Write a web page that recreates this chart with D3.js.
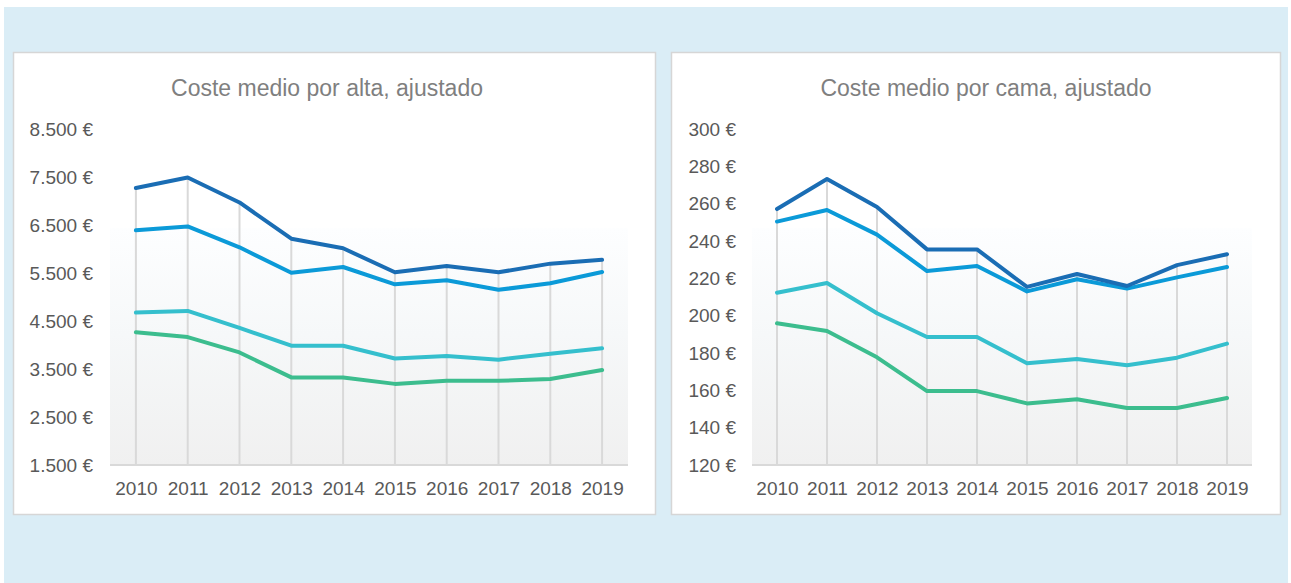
<!DOCTYPE html>
<html>
<head>
<meta charset="utf-8">
<script src="https://cdn.jsdelivr.net/npm/d3@7/dist/d3.min.js"></script>
<style>
  html, body { margin: 0; padding: 0; background: #ffffff; }
  svg { display: block; font-family: "Liberation Sans", Arial, sans-serif; }
</style>
</head>
<body>
<svg id="chart" width="1291" height="583"></svg>
<script>
// ---------- DATA ----------
const years = [2010, 2011, 2012, 2013, 2014, 2015, 2016, 2017, 2018, 2019];

const titles = ["Coste medio por alta, ajustado", "Coste medio por cama, ajustado"];

// Left chart: coste medio por alta (€)
const altaSerie1 = [7270, 7490, 6970, 6215, 6015, 5515, 5645, 5515, 5695, 5775];
const altaSerie2 = [6390, 6470, 6035, 5505, 5625, 5265, 5350, 5150, 5285, 5520];
const altaSerie3 = [4675, 4710, 4355, 3985, 3985, 3720, 3770, 3695, 3820, 3930];
const altaSerie4 = [4265, 4165, 3845, 3325, 3325, 3190, 3255, 3255, 3290, 3480];
const altaTicks = [1500, 2500, 3500, 4500, 5500, 6500, 7500, 8500];

// Right chart: coste medio por cama (€)
const camaSerie1 = [257.1, 273.2, 258.2, 235.5, 235.5, 215.4, 222.3, 215.9, 227.1, 232.9];
const camaSerie2 = [250.4, 256.6, 243.4, 223.9, 226.6, 213.0, 219.5, 214.5, 220.5, 226.1];
const camaSerie3 = [212.3, 217.5, 201.3, 188.6, 188.6, 174.5, 176.8, 173.4, 177.5, 185.0];
const camaSerie4 = [195.9, 191.8, 177.7, 159.6, 159.6, 153.0, 155.2, 150.5, 150.5, 155.9];
const camaTicks = [120, 140, 160, 180, 200, 220, 240, 260, 280, 300];

const seriesColors = ["#1a6db4", "#0b9ad8", "#35bfcd", "#3cbd8e"];

// ---------- DRAWING ----------
const svg = d3.select("#chart");

const defs = svg.append("defs");
const grad = defs.append("linearGradient")
  .attr("id", "plotGrad").attr("x1", 0).attr("y1", 0).attr("x2", 0).attr("y2", 1);
grad.append("stop").attr("offset", "0%").attr("stop-color", "#fdfeff");
grad.append("stop").attr("offset", "45%").attr("stop-color", "#f6f8f9");
grad.append("stop").attr("offset", "100%").attr("stop-color", "#f0f0f0");

// outer light-blue background
svg.append("rect")
  .attr("x", 4).attr("y", 7).attr("width", 1284).attr("height", 576)
  .attr("fill", "#daedf6");

const fmtAlta = d => d3.format(",")(d).replace(/,/g, ".") + " €";
const fmtCama = d => d + " €";

function drawChart(cfg) {
  const g = svg.append("g");

  // panel
  g.append("rect")
    .attr("x", cfg.panel.x + 0.5).attr("y", cfg.panel.y + 0.5)
    .attr("width", cfg.panel.w).attr("height", cfg.panel.h)
    .attr("fill", "#ffffff").attr("stroke", "#d6d6d6").attr("stroke-width", 1.5);

  const x = d3.scalePoint().domain(cfg.years).range([cfg.plot.x0, cfg.plot.x1]).padding(0.5);
  const y = d3.scaleLinear().domain(cfg.domain).range([cfg.plot.y1, cfg.plot.y0]);

  // plot background gradient (lower part of the plot area)
  const gradTop = cfg.plot.y0 + (cfg.plot.y1 - cfg.plot.y0) * 0.295;
  g.append("rect")
    .attr("x", cfg.plot.x0).attr("y", gradTop)
    .attr("width", cfg.plot.x1 - cfg.plot.x0).attr("height", cfg.plot.y1 - gradTop)
    .attr("fill", "url(#plotGrad)");

  // title
  g.append("text")
    .attr("x", cfg.titleX).attr("y", 96)
    .attr("text-anchor", "middle")
    .attr("font-size", 23)
    .attr("fill", "#7f7f7f")
    .text(cfg.title);

  // drop lines from highest series value down to axis
  const maxVals = cfg.years.map((yr, i) => d3.max(cfg.series, s => s[i]));
  g.append("g").selectAll("line").data(cfg.years).join("line")
    .attr("x1", d => x(d)).attr("x2", d => x(d))
    .attr("y1", (d, i) => y(maxVals[i])).attr("y2", cfg.plot.y1)
    .attr("stroke", "#d9d9d9").attr("stroke-width", 2);

  // y axis (labels only)
  const yAxis = d3.axisLeft(y).tickValues(cfg.ticks).tickFormat(cfg.fmt).tickSize(0).tickPadding(0);
  const ya = g.append("g").attr("transform", `translate(${cfg.labelRight},0)`).call(yAxis);
  ya.select(".domain").remove();
  ya.selectAll("text").attr("font-size", 19).attr("fill", "#595959")
    .attr("font-family", "'Liberation Sans', Arial, sans-serif");

  // x axis
  const xAxis = d3.axisBottom(x).tickSize(0).tickPadding(0);
  const xa = g.append("g").attr("transform", `translate(0,${cfg.plot.y1})`).call(xAxis);
  xa.select(".domain").remove();
  xa.selectAll("text").attr("font-size", 19).attr("fill", "#595959")
    .attr("dy", 0).attr("y", 30)
    .attr("font-family", "'Liberation Sans', Arial, sans-serif");
  g.append("line")
    .attr("x1", cfg.plot.x0).attr("x2", cfg.plot.x1)
    .attr("y1", cfg.plot.y1).attr("y2", cfg.plot.y1)
    .attr("stroke", "#d9d9d9").attr("stroke-width", 2);

  // lines (bottom series first so the top one is drawn last)
  const line = d3.line().x((d, i) => x(cfg.years[i])).y(d => y(d));
  const order = [3, 2, 1, 0];
  order.forEach(k => {
    g.append("path")
      .datum(cfg.series[k])
      .attr("d", line)
      .attr("fill", "none")
      .attr("stroke", seriesColors[k])
      .attr("stroke-width", 4)
      .attr("stroke-linejoin", "round")
      .attr("stroke-linecap", "round");
  });
}

drawChart({
  title: titles[0], titleX: 327,
  panel: { x: 13, y: 52, w: 642, h: 462 },
  plot: { x0: 110, x1: 628, y0: 129, y1: 465 },
  labelRight: 93,
  years: years,
  domain: [1500, 8500],
  ticks: altaTicks,
  fmt: fmtAlta,
  series: [altaSerie1, altaSerie2, altaSerie3, altaSerie4]
});

drawChart({
  title: titles[1], titleX: 986,
  panel: { x: 671, y: 52, w: 609, h: 462 },
  plot: { x0: 752, x1: 1252, y0: 129, y1: 465 },
  labelRight: 736,
  years: years,
  domain: [120, 300],
  ticks: camaTicks,
  fmt: fmtCama,
  series: [camaSerie1, camaSerie2, camaSerie3, camaSerie4]
});
</script>
</body>
</html>
